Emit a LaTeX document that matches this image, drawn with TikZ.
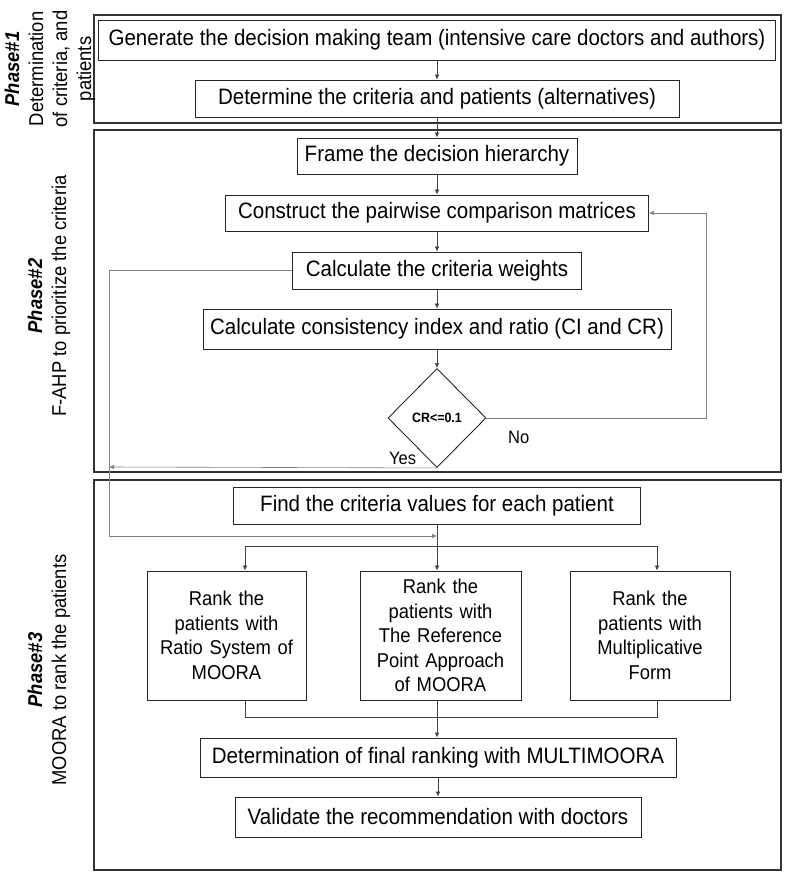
\documentclass[tikz,border=0pt]{standalone}
\usepackage{fontspec}
\setmainfont[FakeStretch=0.92]{Liberation Sans}
\usetikzlibrary{arrows.meta,shapes.geometric,calc}
\begin{document}
\begin{tikzpicture}[x=1pt,y=-1pt,
  frame/.style={draw=black!80,line width=1.1pt,inner sep=0pt},
  box/.style={draw=black!85,line width=0.9pt,inner sep=0pt,align=center,
    font=\fontsize{22.3}{24.5}\selectfont},
  rbox/.style={box,font=\fontsize{20}{24.5}\selectfont,minimum height=129pt},
  dec/.style={draw=black!85,line width=0.9pt,diamond,inner sep=0pt,
    minimum width=98pt,minimum height=99pt,font=\fontsize{13.5}{15}\selectfont\bfseries},
  conn/.style={draw=black!75,line width=0.6pt},
  arr/.style={conn,-{Latex[length=5pt,width=4.5pt]}},
  gconn/.style={draw=black!50,line width=0.6pt},
  garr/.style={gconn,-{Latex[length=5pt,width=4.5pt]}},
  side/.style={rotate=90,align=center,font=\fontsize{20}{24}\selectfont},
  lbl/.style={font=\fontsize{18}{20}\selectfont,inner sep=0pt}
]
\useasboundingbox (0,0) rectangle (786,875);
% phase frames
\node[frame,minimum width=687pt,minimum height=108pt] (p1) at (437.5,69) {};
\node[frame,minimum width=687pt,minimum height=342pt] (p2) at (437.5,301) {};
\node[frame,minimum width=687pt,minimum height=390pt] (p3) at (437.5,675) {};
% side labels
\node[side] (l1) at (50,69) {\textbf{\textit{Phase\#1}}\\Determination\\of criteria, and\\patients};
\node[side] (l2) at (49,296) {\textbf{\textit{Phase\#2}}\\F-AHP to prioritize the criteria};
\node[side] (l3) at (49,670) {\textbf{\textit{Phase\#3}}\\MOORA to rank the patients};
% phase 1
\node[box,minimum width=677pt,minimum height=40pt] (gen) at (437,40) {Generate the decision making team (intensive care doctors and authors)};
\node[box,minimum width=484pt,minimum height=37pt] (det) at (437,98.5) {Determine the criteria and patients (alternatives)};
% phase 2
\node[box,minimum width=280pt,minimum height=36pt] (fra) at (437,156) {Frame the decision hierarchy};
\node[box,minimum width=423pt,minimum height=36pt] (con) at (437,213) {Construct the pairwise comparison matrices};
\node[box,minimum width=289pt,minimum height=37pt] (wei) at (437,270.5) {Calculate the criteria weights};
\node[box,minimum width=468pt,minimum height=40pt] (cons) at (437,329) {Calculate consistency index and ratio (CI and CR)};
\node[dec] (dia) at (437,418) {CR<=0.1};
\node[lbl,anchor=west] (no) at (508,437) {No};
\node[lbl,anchor=west] (yes) at (389,458) {Yes};
% phase 3
\node[box,minimum width=407pt,minimum height=37pt] (find) at (437,505.5) {Find the criteria values for each patient};
\node[rbox,minimum width=159pt,text width=159pt] (r1) at (226.5,635.5) {Rank the\\patients with\\Ratio System of\\MOORA};
\node[rbox,minimum width=161pt,text width=161pt] (r2) at (440.5,635.5) {Rank the\\patients with\\The Reference\\Point Approach\\of MOORA};
\node[rbox,minimum width=160pt,text width=160pt] (r3) at (650,635.5) {Rank the\\patients with\\Multiplicative\\Form};
\node[box,minimum width=476pt,minimum height=39pt] (fin) at (438,757.5) {Determination of final ranking with MULTIMOORA};
\node[box,minimum width=406pt,minimum height=40pt] (val) at (438,817) {Validate the recommendation with doctors};
% coordinates
\coordinate (nob) at (706,418);
\coordinate (yesend) at (109,467);
\coordinate (wl) at (109,270.5);
\coordinate (wd) at (109,536);
\coordinate (jin) at (437,536);
\coordinate (br) at (437,546);
\coordinate (b1) at (245,546);
\coordinate (b3) at (657,546);
\coordinate (m1) at (245,717);
\coordinate (m2) at (437,717);
\coordinate (m3) at (657,717);
% connectors
\draw[arr] (gen.south -| det.north) -- (det.north);
\draw[arr] (det.south) -- (fra.north);
\draw[arr] (fra.south) -- (con.north);
\draw[arr] (con.south) -- (wei.north);
\draw[arr] (wei.south) -- (cons.north);
\draw[arr] (cons.south) -- (dia.north);
\draw[garr] (dia.east) -- (nob) |- (con.east);
\draw[garr] (dia.south) -- (yesend);
\draw[gconn] (wei.west) -- (wl) -- (wd);
\draw[garr] (wd) -- (jin);
\draw[conn] (find.south) -- (br);
\draw[conn] (b1) -- (b3);
\draw[arr] (b1) -- (b1 |- r1.north);
\draw[arr] (br) -- (br |- r2.north);
\draw[arr] (b3) -- (b3 |- r3.north);
\draw[conn] (m1 |- r1.south) -- (m1) -- (m3) -- (m3 |- r3.south);
\draw[conn] (m2 |- r2.south) -- (m2);
\draw[arr] (m2) -- (m2 |- fin.north);
\draw[arr] (fin.south) -- (val.north);
\end{tikzpicture}
\end{document}
